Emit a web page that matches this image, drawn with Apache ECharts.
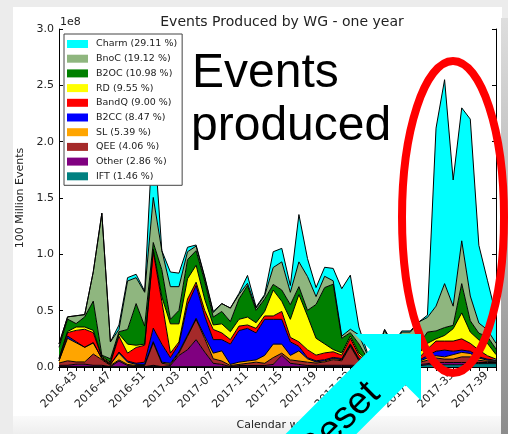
<!DOCTYPE html>
<html>
<head>
<meta charset="utf-8">
<script src="https://cdn.jsdelivr.net/npm/echarts@6/dist/echarts.min.js"></script>
<style>
html, body { margin: 0; padding: 0; background: #ececec; }
#chart { width: 508px; height: 434px; }
</style>
</head>
<body>
<div id="chart"></div>
<script>
// Calendar weeks on the x axis
const weeks = [
  '2016-43','2016-44','2016-45','2016-46','2016-47','2016-48','2016-49','2016-50','2016-51','2016-52',
  '2017-01','2017-02','2017-03','2017-04','2017-05','2017-06','2017-07','2017-08','2017-09','2017-10',
  '2017-11','2017-12','2017-13','2017-14','2017-15','2017-16','2017-17','2017-18','2017-19','2017-20',
  '2017-21','2017-22','2017-23','2017-24','2017-25','2017-26','2017-27','2017-28','2017-29','2017-30',
  '2017-31','2017-32','2017-33','2017-34','2017-35','2017-36','2017-37','2017-38','2017-39','2017-40',
  '2017-41','2017-42'
];

// Events per week and working group, in units of 1e8 (stacked bottom to top)
const IFT = [0.005,0.005,0.005,0.005,0.005,0.005,0.003,0.003,0.003,0.003, 0.003,0.005,0.003,0.003,0.003,0.003,0.003,0.003,0.003,0.003, 0.003,0.003,0.003,0.003,0.003,0.003,0.003,0.003,0.003,0.003, 0.005,0.005,0.005,0.005,0.005,0.005,0.005,0.005,0.005,0.005, 0.01,0.01,0.01,0.02,0.02,0.02,0.02,0.02,0.03,0.03, 0.03,0.03];
const Other = [0.01,0.01,0.02,0.02,0.01,0.01,0.0,0.05,0.01,0.0, 0.0,0.01,0.0,0.01,0.10,0.15,0.24,0.13,0.03,0.02, 0.0,0.01,0.01,0.01,0.01,0.02,0.10,0.03,0.02,0.01, 0.01,0.01,0.01,0.01,0.01,0.01,0.01,0.01,0.01,0.01, 0.01,0.01,0.01,0.01,0.02,0.02,0.02,0.02,0.01,0.01, 0.01,0.01];
const QEE = [0.02,0.04,0.02,0.02,0.10,0.05,0.01,0.01,0.01,0.01, 0.01,0.20,0.03,0.01,0.02,0.12,0.18,0.12,0.04,0.03, 0.01,0.01,0.02,0.03,0.02,0.06,0.02,0.03,0.03,0.03, 0.02,0.03,0.05,0.04,0.17,0.04,0.01,0.01,0.01,0.01, 0.01,0.01,0.02,0.03,0.04,0.03,0.03,0.05,0.05,0.02, 0.01,0.01];
const SL = [0.02,0.20,0.17,0.13,0.10,0.01,0.01,0.06,0.02,0.01, 0.01,0.01,0.01,0.01,0.01,0.01,0.01,0.02,0.05,0.09, 0.01,0.02,0.02,0.02,0.07,0.12,0.08,0.04,0.09,0.03, 0.01,0.01,0.01,0.01,0.01,0.01,0.01,0.01,0.01,0.01, 0.01,0.01,0.01,0.02,0.02,0.02,0.04,0.04,0.03,0.02, 0.01,0.01];
const B2CC = [0.0,0.02,0.01,0.0,0.0,0.0,0.0,0.01,0.01,0.01, 0.02,0.12,0.16,0.05,0.07,0.27,0.29,0.18,0.12,0.10, 0.18,0.28,0.29,0.24,0.32,0.22,0.22,0.12,0.04,0.01, 0.01,0.01,0.01,0.01,0.01,0.01,0.0,0.0,0.01,0.0, 0.01,0.01,0.01,0.02,0.04,0.06,0.03,0.02,0.02,0.01, 0.01,0.0];
const BandQ = [0.02,0.03,0.10,0.16,0.09,0.01,0.01,0.14,0.07,0.14, 0.15,0.68,0.38,0.04,0.02,0.05,0.03,0.05,0.09,0.06, 0.04,0.04,0.03,0.04,0.03,0.03,0.07,0.04,0.04,0.07, 0.05,0.06,0.05,0.03,0.05,0.03,0.01,0.01,0.01,0.01, 0.01,0.01,0.02,0.06,0.09,0.08,0.09,0.10,0.07,0.06, 0.03,0.01];
const RD = [0.0,0.01,0.03,0.02,0.02,0.01,0.01,0.02,0.08,0.02, 0.01,0.02,0.04,0.26,0.16,0.18,0.15,0.10,0.04,0.08, 0.07,0.06,0.07,0.05,0.04,0.23,0.09,0.16,0.42,0.30, 0.15,0.08,0.02,0.02,0.02,0.02,0.01,0.01,0.01,0.01, 0.01,0.01,0.04,0.05,0.02,0.05,0.11,0.23,0.10,0.09, 0.11,0.04];
const B2OC = [0.10,0.11,0.03,0.09,0.26,0.01,0.03,0.02,0.13,0.37, 0.16,0.06,0.24,0.04,0.12,0.17,0.13,0.16,0.07,0.11, 0.09,0.18,0.28,0.11,0.11,0.05,0.10,0.13,0.07,0.05, 0.30,0.50,0.58,0.13,0.03,0.08,0.02,0.02,0.22,0.05, 0.06,0.06,0.08,0.10,0.07,0.07,0.03,0.26,0.10,0.06, 0.06,0.05];
const BnoC = [0.03,0.02,0.07,0.02,0.26,1.26,0.15,0.02,0.43,0.23, 0.30,0.40,0.17,0.29,0.21,0.07,0.04,0.03,0.04,0.07, 0.12,0.04,0.02,0.02,0.03,0.15,0.25,0.11,0.22,0.30, 0.07,0.10,0.03,0.02,0.03,0.08,0.03,0.03,0.04,0.08, 0.18,0.18,0.20,0.13,0.22,0.39,0.17,0.38,0.22,0.09, 0.06,0.05];
const Charm = [0.0,0.0,0.0,0.0,0.0,0.0,0.0,0.04,0.03,0.03, 0.01,0.65,0.0,0.13,0.12,0.04,0.01,0.01,0.01,0.0, 0.0,0.01,0.07,0.01,0.01,0.14,0.12,0.06,0.42,0.16, 0.08,0.08,0.11,0.42,0.48,0.07,0.02,0.02,0.01,0.02, 0.01,0.01,0.0,0.02,1.58,1.81,1.12,1.18,1.57,0.69, 0.44,0.25];

// Legend entries with their share of the year's total
const groups = [
  { name: 'Charm (29.11 %)', color: '#00ffff', values: Charm },
  { name: 'BnoC (19.12 %)',  color: '#8fb67f', values: BnoC },
  { name: 'B2OC (10.98 %)',  color: '#008000', values: B2OC },
  { name: 'RD (9.55 %)',     color: '#ffff00', values: RD },
  { name: 'BandQ (9.00 %)',  color: '#ff0000', values: BandQ },
  { name: 'B2CC (8.47 %)',   color: '#0000ff', values: B2CC },
  { name: 'SL (5.39 %)',     color: '#ffa500', values: SL },
  { name: 'QEE (4.06 %)',    color: '#a52a2a', values: QEE },
  { name: 'Other (2.86 %)',  color: '#800080', values: Other },
  { name: 'IFT (1.46 %)',    color: '#008080', values: IFT }
];

const FONT = 'DejaVu Sans';
const chart = echarts.init(document.getElementById('chart'), null, { renderer: 'canvas' });

// stack from the bottom group (IFT) up to Charm
const series = groups.slice().reverse().map(g => ({
  name: g.name,
  type: 'line',
  stack: 'total',
  data: g.values,
  symbol: 'none',
  smooth: false,
  lineStyle: { color: '#000', width: 1 },
  itemStyle: { color: g.color },
  areaStyle: { color: g.color, opacity: 1 },
  emphasis: { disabled: true },
  animation: false,
  z: 2
}));

const axisFrame = { show: true, lineStyle: { color: '#000', width: 1 } };

// cyan arrow geometry: tip, head half width, shaft half width along a 45 degree axis
const tip = [421, 334];
const headLen = 47, headHalf = 47, shaftHalf = 25, shaftLen = 230;
const ux = -Math.SQRT1_2, uy = Math.SQRT1_2;     // back along the arrow axis
const nx = Math.SQRT1_2, ny = Math.SQRT1_2;      // across the arrow
const mid = [tip[0] + ux * headLen, tip[1] + uy * headLen];
const arrowPts = [
  tip,
  [mid[0] - nx * headHalf, mid[1] - ny * headHalf],
  [mid[0] - nx * shaftHalf, mid[1] - ny * shaftHalf],
  [mid[0] - nx * shaftHalf + ux * shaftLen, mid[1] - ny * shaftHalf + uy * shaftLen],
  [mid[0] + nx * shaftHalf + ux * shaftLen, mid[1] + ny * shaftHalf + uy * shaftLen],
  [mid[0] + nx * shaftHalf, mid[1] + ny * shaftHalf],
  [mid[0] + nx * headHalf, mid[1] + ny * headHalf]
];

chart.setOption({
  backgroundColor: '#ececec',
  animation: false,
  title: {
    text: 'Events Produced by WG - one year',
    left: 277, top: 10, textAlign: 'center',
    textStyle: { fontFamily: FONT, fontSize: 14, fontWeight: 'normal', color: '#222' }
  },
  legend: {
    data: groups.map(g => g.name),
    orient: 'vertical',
    left: 64, top: 34,
    icon: 'rect',
    itemWidth: 21, itemHeight: 8, itemGap: 4.7,
    padding: [5, 5, 4, 3],
    backgroundColor: '#fff',
    borderColor: '#444', borderWidth: 1,
    itemStyle: { borderWidth: 0 },
    lineStyle: { width: 0, opacity: 0 },
    textStyle: { fontFamily: FONT, fontSize: 9.5, lineHeight: 10, color: '#222', padding: [0, 0, 0, 3] },
    selectedMode: false,
    z: 10
  },
  grid: { left: 59, right: 12, top: 29, bottom: 67, containLabel: false, outerBoundsMode: 'none' },
  xAxis: [
    {
      type: 'category', data: weeks, boundaryGap: false, position: 'bottom',
      axisLine: axisFrame,
      axisTick: { show: true, inside: true, length: 4, interval: 0, lineStyle: { color: '#000' } },
      axisLabel: {
        interval: 3, rotate: 45, align: 'center', verticalAlign: 'middle', margin: 23,
        fontFamily: FONT, fontSize: 11, color: '#222'
      },
      splitLine: { show: false },
      name: 'Calendar week', nameLocation: 'middle', nameGap: 53,
      nameTextStyle: { fontFamily: FONT, fontSize: 11, color: '#222' }
    },
    {
      type: 'category', data: weeks, boundaryGap: false, position: 'top',
      axisLine: axisFrame,
      axisTick: { show: true, inside: true, length: 4, interval: 0, lineStyle: { color: '#000' } },
      axisLabel: { show: false },
      splitLine: { show: false }
    }
  ],
  yAxis: [
    {
      type: 'value', min: 0, max: 3, interval: 0.5, position: 'left',
      axisLine: axisFrame,
      axisTick: { show: true, inside: true, length: 4, lineStyle: { color: '#000' } },
      axisLabel: { fontFamily: FONT, fontSize: 11, color: '#222', margin: 5, formatter: v => v.toFixed(1) },
      splitLine: { show: false },
      name: '100 Million Events', nameLocation: 'middle', nameGap: 31, nameRotate: 90,
      nameTextStyle: { fontFamily: FONT, fontSize: 11, color: '#222' }
    },
    {
      type: 'value', min: 0, max: 3, interval: 0.5, position: 'right',
      axisLine: axisFrame,
      axisTick: { show: true, inside: true, length: 4, lineStyle: { color: '#000' } },
      axisLabel: { show: false },
      splitLine: { show: false }
    }
  ],
  series: series,
  graphic: [
    // white figure sheet on the grey slide
    { type: 'rect', z: -100, silent: true, shape: { x: 13, y: 7, width: 489, height: 427 }, style: { fill: '#ffffff' } },
    { type: 'rect', z: -99, silent: true, shape: { x: 13, y: 416, width: 489, height: 18 },
      style: { fill: new echarts.graphic.LinearGradient(0, 0, 0, 1, [{ offset: 0, color: '#fafafa' }, { offset: 1, color: '#eeeeee' }]) } },
    { type: 'rect', z: 90, silent: true, shape: { x: 501, y: 18, width: 7, height: 416 },
      style: { fill: new echarts.graphic.LinearGradient(0, 0, 0, 1, [{ offset: 0, color: '#dedede' }, { offset: 1, color: '#8c8c8c' }]) } },
    // axis offset label
    { type: 'text', z: 5, silent: true, x: 60, y: 22,
      style: { text: '1e8', fontFamily: FONT, fontSize: 11, fill: '#222', verticalAlign: 'middle' } },
    // slide annotations
    { type: 'text', z: 100, silent: true, x: 192, y: 74,
      style: { text: 'Events', fontFamily: 'Liberation Sans', fontSize: 48, fill: '#000', verticalAlign: 'middle' } },
    { type: 'text', z: 100, silent: true, x: 191, y: 127,
      style: { text: 'produced', fontFamily: 'Liberation Sans', fontSize: 48, fill: '#000', verticalAlign: 'middle' } },
    { type: 'ellipse', z: 100, silent: true, shape: { cx: 453, cy: 217, rx: 51, ry: 156 },
      style: { fill: null, stroke: '#ff0000', lineWidth: 8 } },
    { type: 'polygon', z: 100, silent: true, shape: { points: arrowPts }, style: { fill: '#00ffff' } },
    { type: 'text', z: 101, silent: true, x: 374, y: 388, rotation: Math.PI / 4,
      style: { text: 'Reset', fontFamily: 'Liberation Sans', fontSize: 38, fill: '#000', align: 'right', verticalAlign: 'middle' } }
  ]
});
</script>
</body>
</html>
